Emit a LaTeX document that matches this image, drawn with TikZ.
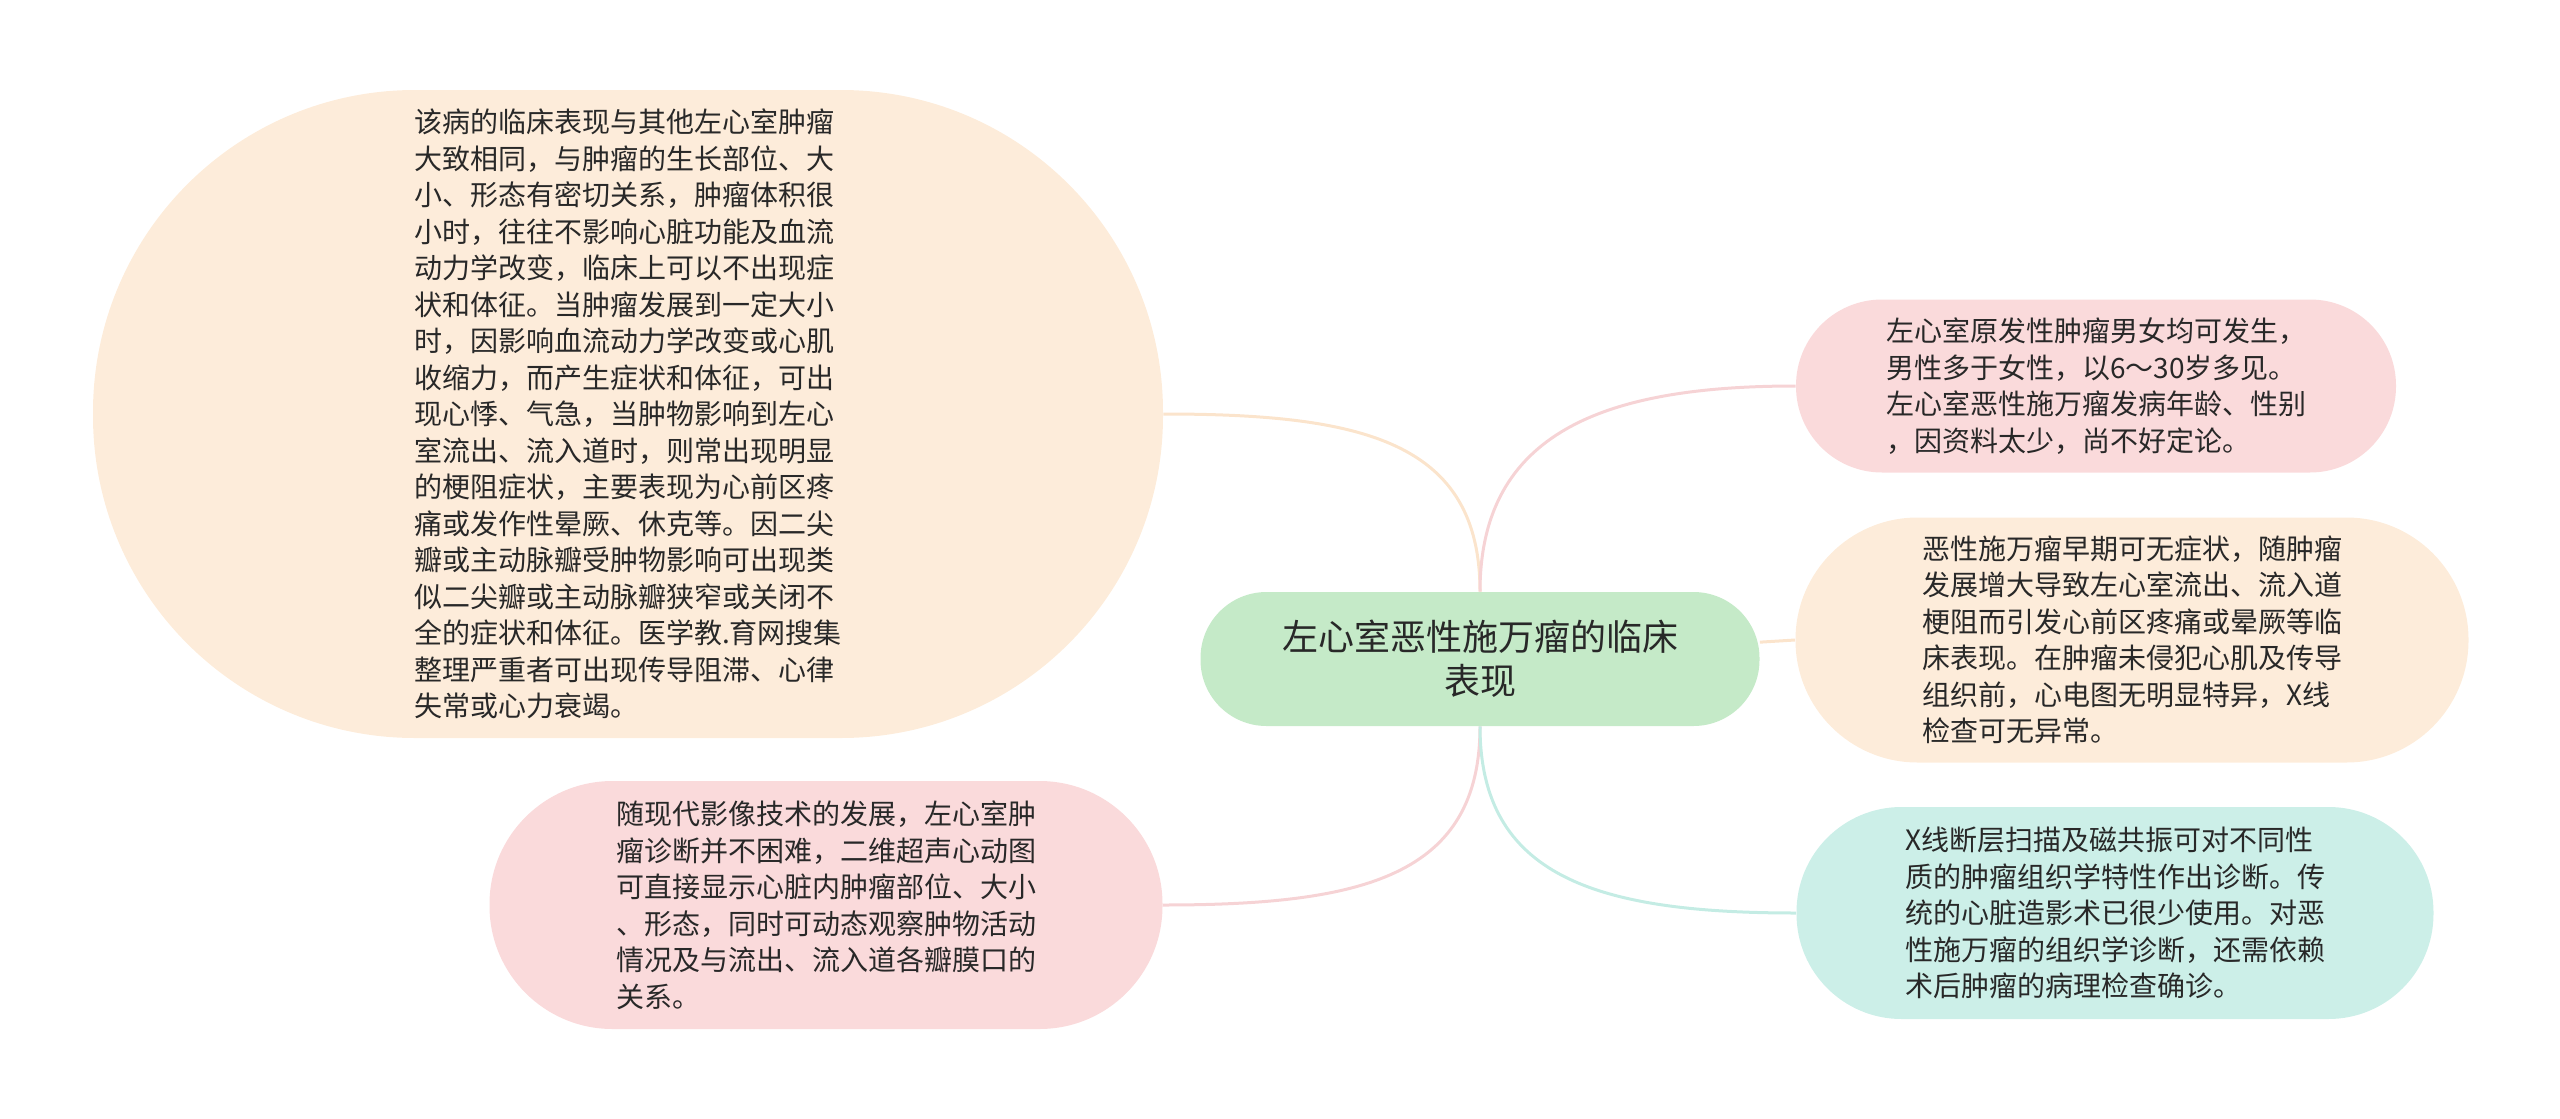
\documentclass[tikz,border=0pt]{standalone}
\usepackage{fontspec}
\setmainfont{Noto Sans CJK SC}
\usepackage{xcolor}
\definecolor{peachfill}{RGB}{253,236,218}
\definecolor{pinkfill}{RGB}{250,218,219}
\definecolor{greenfill}{RGB}{197,234,200}
\definecolor{tealfill}{RGB}{204,239,232}
\definecolor{peachline}{RGB}{251,228,204}
\definecolor{pinkline}{RGB}{246,211,213}
\definecolor{tealline}{RGB}{196,236,228}
\definecolor{textgray}{RGB}{40,40,40}

\begin{document}
\begin{tikzpicture}[x=0.5pt,y=0.5pt,yscale=-1,xscale=1,
    leaf/.style={inner sep=0pt, align=left, text=textgray, font=\fontsize{14pt}{18.25pt}\selectfont},
    rootbox/.style={fill=greenfill, inner sep=0pt, align=center, text=textgray, font=\fontsize{18pt}{22pt}\selectfont,
      minimum width=279.5pt, minimum height=67pt, rounded corners=33pt},
    link/.style={line width=1.5pt}]
    \useasboundingbox (0,0) rectangle (2560,1119);
    \node (big) at (628,414) [leaf, fill=peachfill, minimum width=535pt, minimum height=324pt, rounded corners=161pt] {该病的临床表现与其他左心室肿瘤\\大致相同，与肿瘤的生长部位、大\\小、形态有密切关系，肿瘤体积很\\小时，往往不影响心脏功能及血流\\动力学改变，临床上可以不出现症\\状和体征。当肿瘤发展到一定大小\\时，因影响血流动力学改变或心肌\\收缩力，而产生症状和体征，可出\\现心悸、气急，当肿物影响到左心\\室流出、流入道时，则常出现明显\\的梗阻症状，主要表现为心前区疼\\痛或发作性晕厥、休克等。因二尖\\瓣或主动脉瓣受肿物影响可出现类\\似二尖瓣或主动脉瓣狭窄或关闭不\\全的症状和体征。医学教.育网搜集\\整理严重者可出现传导阻滞、心律\\失常或心力衰竭。};
    \node (bl) at (826,905) [leaf, fill=pinkfill, minimum width=336.5pt, minimum height=124pt, rounded corners=61.5pt] {随现代影像技术的发展，左心室肿\\瘤诊断并不困难，二维超声心动图\\可直接显示心脏内肿瘤部位、大小\\、形态，同时可动态观察肿物活动\\情况及与流出、流入道各瓣膜口的\\关系。};
    \node (root) at (1480,659) [rootbox] {左心室恶性施万瘤的临床\\表现};
    \node (rtop) at (2096,386) [leaf, fill=pinkfill, minimum width=300pt, minimum height=86.5pt, rounded corners=43pt] {左心室原发性肿瘤男女均可发生，\\男性多于女性，以6～30岁多见。\\左心室恶性施万瘤发病年龄、性别\\，因资料太少，尚不好定论。};
    \node (rmid) at (2132,640) [leaf, fill=peachfill, minimum width=336.5pt, minimum height=122.5pt, rounded corners=61pt] {恶性施万瘤早期可无症状，随肿瘤\\发展增大导致左心室流出、流入道\\梗阻而引发心前区疼痛或晕厥等临\\床表现。在肿瘤未侵犯心肌及传导\\组织前，心电图无明显特异，X线\\检查可无异常。};
    \node (rbot) at (2115,913) [leaf, fill=tealfill, minimum width=318.5pt, minimum height=106pt, rounded corners=52.5pt] {X线断层扫描及磁共振可对不同性\\质的肿瘤组织学特性作出诊断。传\\统的心脏造影术已很少使用。对恶\\性施万瘤的组织学诊断，还需依赖\\术后肿瘤的病理检查确诊。};
    \draw [link, draw=peachline] (root.north) .. controls +(0,-150) and +(200,0) .. (big.east);
    \draw [link, draw=pinkline] (root.north) .. controls +(0,-160) and +(-190,0) .. (rtop.west);
    \draw [link, draw=peachline] (root) -- (rmid.west);
    \draw [link, draw=pinkline] (root.south) .. controls +(0,150) and +(200,0) .. (bl.east);
    \draw [link, draw=tealline] (root.south) .. controls +(0,150) and +(-200,0) .. (rbot.west);
\end{tikzpicture}
\end{document}
